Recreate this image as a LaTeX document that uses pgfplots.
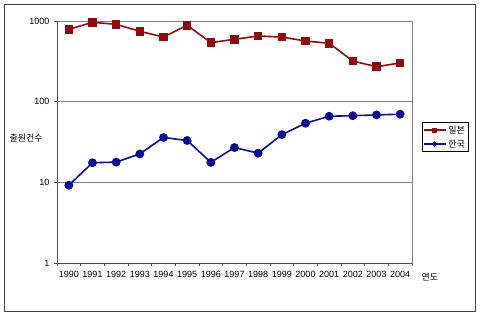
\documentclass[border=0pt]{standalone}
\usepackage{pgfplots}
\pgfplotsset{compat=1.18}
\usepackage{fontspec}
\setmainfont{Liberation Sans}
\newfontfamily\kr{Noto Sans CJK KR}
\definecolor{jred}{RGB}{140,12,16}
\definecolor{kblue}{RGB}{12,12,140}
\definecolor{gridg}{RGB}{128,128,128}
\begin{document}
\begin{tikzpicture}[x=1pt,y=1pt]
\path[use as bounding box] (0,0) rectangle (480,319);
\draw[black!75, line width=0.8pt] (4,8) rectangle (475,315);
\begin{axis}[
  at={(57pt,56pt)}, anchor=south west,
  scale only axis, width=355pt, height=242pt,
  ymode=log, ymin=1, ymax=1000,
  xmin=-0.5, xmax=14.5,
  ytick={1,10,100,1000},
  yticklabels={1,10,100,1000},
  xtick={0,...,14},
  xticklabels={1990,1991,1992,1993,1994,1995,1996,1997,1998,1999,2000,2001,2002,2003,2004},
  major x tick style={draw=none},
  minor xtick={-0.5,0.5,...,14.5},
  minor tick length=3pt,
  major tick length=3pt,
  tick align=outside,
  xtick pos=bottom, ytick pos=left,
  ymajorgrids,
  grid style={gridg, line width=0.6pt},
  log basis y=10,
  yminorticks=false,
  axis line style={gridg, line width=0.6pt},
  tick style={black!70, line width=0.6pt},
  ticklabel style={font=\fontsize{9}{10}\selectfont},
  /pgf/number format/assume math mode=true,
  xticklabel style={yshift=-2pt},
  yticklabel style={xshift=-1pt},
  clip=false,
  legend style={at={(1.027,0.52)}, anchor=west, draw=black, line width=0.6pt,
     font=\kr\fontsize{9}{10}\selectfont, inner sep=1pt, row sep=1pt,
     /tikz/every even column/.append style={column sep=0pt}},
  legend cell align=left,
  legend image code/.code={
    \draw[#1, line width=1.4pt] (0pt,0pt) -- (22pt,0pt);
    \path[#1, mark size=1.8pt] plot coordinates {(11pt,0pt)};},
]
\draw[black!70, line width=0.6pt] (axis cs:-0.5,1) -- (axis cs:-0.5,1000);
\draw[black!70, line width=0.6pt] (axis cs:-0.5,1) -- (axis cs:14.5,1);
\addplot[jred, line width=1.6pt, mark=square*, mark size=3.5pt, mark options={solid}] coordinates {
(0,789) (1,963) (2,910) (3,745) (4,633) (5,885) (6,539) (7,593) (8,652) (9,633) (10,565) (11,529) (12,319) (13,271) (14,302)};
\addlegendentry{일본}
\addplot[kblue, line width=1.6pt, mark=*, mark size=3.6pt, mark options={solid}] coordinates {
(0,9.2) (1,17.5) (2,17.8) (3,22.5) (4,36) (5,33) (6,17.7) (7,27) (8,23) (9,39) (10,54) (11,66) (12,67) (13,68.5) (14,70)};
\addlegendentry{한국}
\end{axis}
\node[font=\kr\fontsize{9}{10}\selectfont, anchor=west] at (6,181) {출원건수};
\node[font=\kr\fontsize{9}{10}\selectfont, anchor=west] at (418,42) {연도};
\end{tikzpicture}
\end{document}
